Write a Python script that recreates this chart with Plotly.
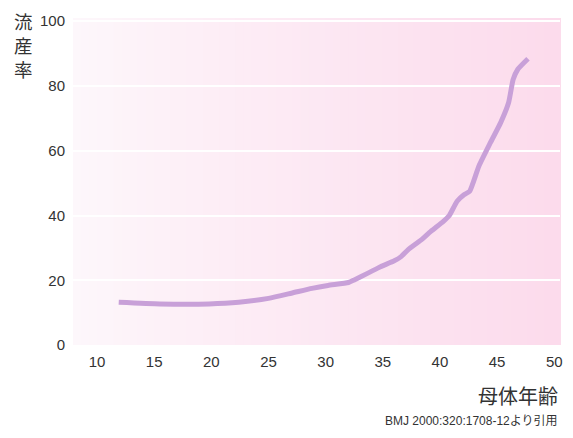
import plotly.graph_objects as go

# data
age = [11.9, 15.5, 19.8, 22.4, 25.0, 27.0, 28.8, 30.2, 32.0, 32.5, 33.7, 34.8, 36.0, 36.6,
       37.2, 38.3, 39.2, 40.3, 40.8, 41.5, 42.1, 42.6, 43.4, 44.4, 45.3, 46.0, 46.4, 46.8, 47.7]
rate = [13.2, 12.7, 12.7, 13.2, 14.4, 16.0, 17.5, 18.4, 19.3, 20.1, 22.2, 24.2, 26.0, 27.3,
        29.4, 32.3, 35.1, 38.2, 39.9, 44.4, 46.4, 47.5, 55.2, 62.4, 68.6, 74.8, 82.0, 85.1, 88.4]
x_ticks = [10, 15, 20, 25, 30, 35, 40, 45, 50]
y_ticks = [0, 20, 40, 60, 80, 100]
y_title = "流<br>産<br>率"

FONT = "Liberation Sans, Arial, Noto Sans CJK JP, sans-serif"
JFONT = "Noto Sans CJK JP, sans-serif"

fig = go.Figure()
fig.add_trace(go.Scatter(x=age, y=rate, mode="lines",
                         line=dict(color="#c8a0d8", width=5, shape="spline", smoothing=0.5),
                         hoverinfo="skip", showlegend=False))

# background gradient (light at left -> pink at right)
n = 60
c0 = (253, 247, 251)
c1 = (252, 219, 236)
shapes = []
for i in range(n):
    t = i / (n - 1)
    t2 = t ** 0.9
    col = tuple(round(c0[k] + (c1[k] - c0[k]) * t2) for k in range(3))
    shapes.append(dict(type="rect", xref="x domain", yref="y domain",
                       x0=i / n, x1=(i + 1) / n + 0.002, y0=0, y1=1,
                       fillcolor="rgb(%d,%d,%d)" % col, line=dict(width=0),
                       layer="below"))

annotations = [
    dict(text=y_title, xref="paper", yref="paper", x=-0.102, y=0.918,
         xanchor="center", yanchor="middle", showarrow=False, align="center",
         font=dict(family=JFONT, size=18.5, color="#333333")),
    dict(text="母体年齢", xref="paper", yref="paper", x=1.0, y=-0.105,
         xanchor="right", yanchor="top", showarrow=False,
         font=dict(family=JFONT, size=20, color="#333333")),
    dict(text="BMJ 2000:320:1708-12より引用", xref="paper", yref="paper", x=1.0, y=-0.205,
         xanchor="right", yanchor="top", showarrow=False,
         font=dict(family=FONT, size=12, color="#333333")),
]

fig.update_layout(
    width=573, height=438,
    margin=dict(l=73, r=10, t=18, b=93),
    paper_bgcolor="white", plot_bgcolor="#fbe6f1",
    font=dict(family=FONT, size=15, color="#333333"),
    shapes=shapes,
    xaxis=dict(range=[7.9, 50.5], tickvals=x_ticks, showgrid=False, zeroline=False,
               ticks="outside", ticklen=3, tickcolor="rgba(0,0,0,0)", showline=False,
               tickfont=dict(size=15, color="#333333")),
    yaxis=dict(range=[0, 101], tickvals=y_ticks, showgrid=True, gridcolor="white",
               gridwidth=1.5, zeroline=False, showline=False,
               ticks="outside", ticklen=4, tickcolor="rgba(0,0,0,0)",
               tickfont=dict(size=15, color="#333333")),
    annotations=annotations,
)

fig.write_html("out.html")
